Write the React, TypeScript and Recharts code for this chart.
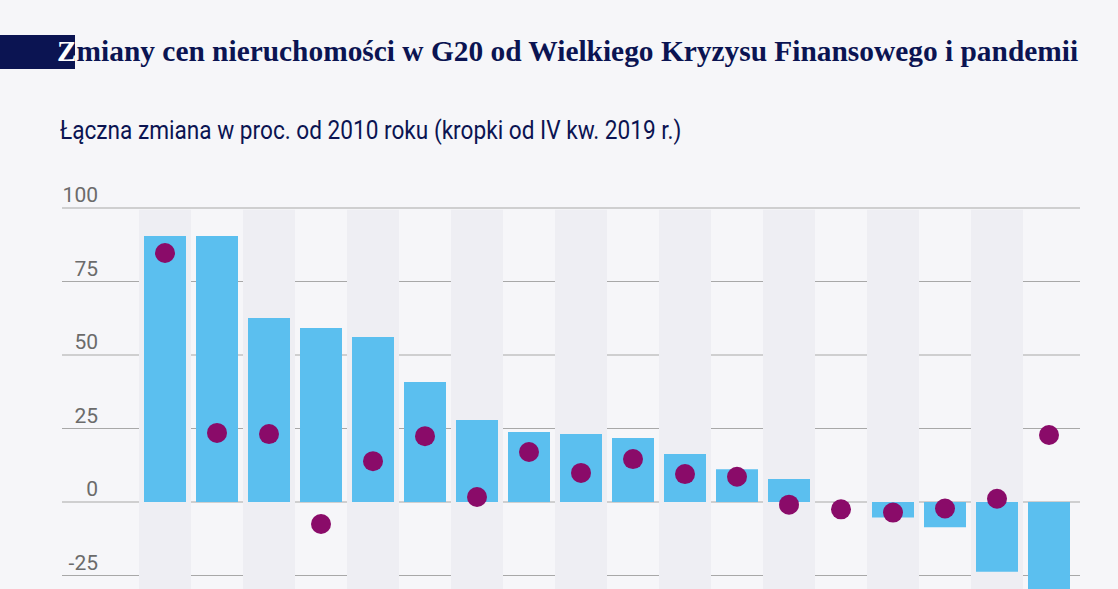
import React from "react";
import {
  ComposedChart,
  Bar,
  Scatter,
  XAxis,
  YAxis,
  CartesianGrid,
  ReferenceArea,
} from "recharts";

const countries = [
  "Kanada", "Niemcy", "USA", "Turcja", "Meksyk", "Australia",
  "Wielka Brytania", "Indie", "Argentyna", "Japonia", "Francja", "Korea Płd.",
  "Arabia Saudyjska", "Chiny", "Indonezja", "RPA", "Włochy", "Rosja",
];
const since2010 = [
  90.5, 90.5, 62.6, 59.2, 56.1, 40.8, 27.9, 23.8, 23.1, 21.8, 16.3, 11.1,
  7.8, 0, -5.3, -8.6, -23.7, -33,
];
const since2019 = [
  84.7, 23.5, 23.1, -7.5, 13.9, 22.4, 1.7, 17.0, 9.9, 14.6, 9.5, 8.6,
  -0.9, -2.5, -3.6, -2.2, 1.1, 22.8,
];
const yTicks = [-25, 0, 25, 50, 75, 100];

const data = countries.map((c, i) => ({
  country: c,
  bar: since2010[i],
  dot: since2019[i],
}));

const shaded = countries.filter((_, i) => i % 2 === 0);

const NAVY = "#0b1452";

const Tick = (props: any) => {
  const { y, payload } = props;
  return (
    <text
      x={98}
      y={y - 6}
      textAnchor="end"
      fill="#6b6b6b"
      fontSize={21}
      fontFamily="Roboto, sans-serif"
    >
      {payload.value}
    </text>
  );
};

const Dot = (props: any) => {
  const { cx, cy } = props;
  return <circle cx={cx} cy={cy} r={10} fill="#8a0b69" />;
};

export default function App() {
  return (
    <div
      style={{
        position: "absolute",
        left: 0,
        top: 0,
        width: 1118,
        height: 589,
        overflow: "hidden",
        background: "#f6f6f9",
      }}
    >
      <div
        style={{
          position: "absolute",
          left: 0,
          top: 35,
          width: 75,
          height: 34,
          background: NAVY,
        }}
      />
      <div
        style={{
          position: "absolute",
          left: 57,
          top: 33,
          whiteSpace: "nowrap",
          fontFamily: "'Liberation Serif', serif",
          fontWeight: 700,
          fontSize: 29.4,
          lineHeight: "36px",
          color: NAVY,
        }}
      >
        <span style={{ color: "#ffffff" }}>Z</span>miany cen nieruchomości w G20 od
        Wielkiego Kryzysu Finansowego i pandemii
      </div>
      <div
        style={{
          position: "absolute",
          left: 60,
          top: 115,
          whiteSpace: "nowrap",
          fontFamily: "Roboto, sans-serif",
          fontSize: 26,
          lineHeight: "30px",
          color: NAVY,
          transform: "scaleX(0.87)",
          transformOrigin: "0 0",
        }}
      >
        Łączna zmiana w proc. od 2010 roku (kropki od IV kw. 2019 r.)
      </div>
      <div style={{ position: "absolute", left: 0, top: 0 }}>
        <ComposedChart
          width={1118}
          height={700}
          data={data}
          margin={{ top: 208, right: 38, bottom: 51, left: 0 }}
          barSize={42}
        >
          {shaded.map((c) => (
            <ReferenceArea
              key={c}
              x1={c}
              x2={c}
              y1={-50}
              y2={99.4}
              fill="#eeeef3"
              fillOpacity={1}
              stroke="none"
              ifOverflow="visible"
            />
          ))}
          <CartesianGrid
            vertical={false}
            stroke="#a8a8a8"
            strokeWidth={1.2}
          />
          <XAxis
            dataKey="country"
            hide
            padding={{ left: 77, right: 5 }}
          />
          <YAxis
            domain={[-50, 100]}
            ticks={yTicks}
            width={62}
            axisLine={false}
            tickLine={false}
            tick={<Tick />}
            interval={0}
          />
          <Bar dataKey="bar" fill="#5bbfef" isAnimationActive={false} />
          <Scatter dataKey="dot" shape={<Dot />} isAnimationActive={false} />
        </ComposedChart>
      </div>
    </div>
  );
}
